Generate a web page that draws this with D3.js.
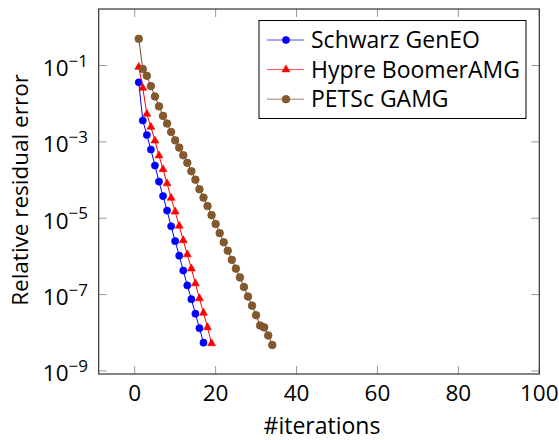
<!DOCTYPE html>
<html>
<head>
<meta charset="utf-8">
<script src="https://cdn.jsdelivr.net/npm/d3@7"></script>
<style>
  body { margin: 0; background: #fff; }
  text { font-family: "Open Sans", Lato, sans-serif; fill: #000; }
</style>
</head>
<body>
<div id="chart"></div>
<script>
// iterations on x, relative residual error (log10)
const schwarzIter = d3.range(1, 18)
const schwarzLog = [-1.44, -2.44, -2.82, -3.20, -3.62, -4.04, -4.42, -4.80, -5.21,
    -5.60, -5.98, -6.37, -6.76, -7.12, -7.50, -7.88, -8.26]

const hypreIter = d3.range(1, 20)
const hypreLog = [-1.04, -1.59, -2.27, -2.61, -2.97, -3.36, -3.72, -4.09, -4.47, -4.83,
    -5.20, -5.58, -5.95, -6.32, -6.71, -7.10, -7.48, -7.86, -8.28]

const petscIter = d3.range(1, 35)
const petscLog = [-0.30, -1.09, -1.27, -1.54, -1.81, -2.07, -2.32, -2.52, -2.74, -2.96,
    -3.15, -3.35, -3.55, -3.77, -3.99, -4.24, -4.46, -4.68, -4.92, -5.15,
    -5.39, -5.63, -5.85, -6.09, -6.32, -6.55, -6.80, -7.05, -7.29, -7.54,
    -7.81, -7.86, -8.07, -8.32]

const seriesNames = ["Schwarz GenEO", "Hypre BoomerAMG", "PETSc GAMG"]
const xTicks = [0, 20, 40, 60, 80, 100]
const yTickExp = [-1, -3, -5, -7, -9]

// dimensions
const W = 559, H = 440
const plotLeft = 98.7, plotRight = 539.3, plotTop = 9, plotBottom = 374

const svg = d3.select("#chart").append("svg")
    .attr("width", W)
    .attr("height", H)

const x = d3.scaleLinear().domain([-8.9, 100]).range([plotLeft, plotRight])
const y = d3.scaleLog().domain([Math.pow(10, -9.08), Math.pow(10, 0.48)]).range([plotBottom, plotTop])

function toPts(iters, logs) {
    return iters.map((it, i) => ({ x: it, y: Math.pow(10, logs[i]) }))
}

const series = [
    { name: seriesNames[0], data: toPts(schwarzIter, schwarzLog), color: "#0000ff", mark: "circle" },
    { name: seriesNames[1], data: toPts(hypreIter, hypreLog), color: "#ff0000", mark: "triangle" },
    { name: seriesNames[2], data: toPts(petscIter, petscLog), color: "#734d26", mark: "otimes" }
]

// ticks (inside, on all four sides)
const tickLen = 8
const tickG = svg.append("g").attr("stroke", "#999").attr("stroke-width", 1)
xTicks.forEach(t => {
    tickG.append("line").attr("x1", x(t)).attr("x2", x(t)).attr("y1", plotBottom).attr("y2", plotBottom - tickLen)
    tickG.append("line").attr("x1", x(t)).attr("x2", x(t)).attr("y1", plotTop).attr("y2", plotTop + tickLen)
})
yTickExp.forEach(e => {
    const yy = y(Math.pow(10, e))
    tickG.append("line").attr("x1", plotLeft).attr("x2", plotLeft + tickLen).attr("y1", yy).attr("y2", yy)
    tickG.append("line").attr("x1", plotRight).attr("x2", plotRight - tickLen).attr("y1", yy).attr("y2", yy)
})

// tick labels
svg.append("g").selectAll("text")
    .data(xTicks)
    .join("text")
    .attr("x", d => x(d))
    .attr("y", 401)
    .attr("text-anchor", "middle")
    .attr("font-size", 22.5)
    .text(d => d)

const yLab = svg.append("g").selectAll("text")
    .data(yTickExp)
    .join("text")
    .attr("x", 88)
    .attr("y", d => y(Math.pow(10, d)) + 10.5)
    .attr("text-anchor", "end")
    .attr("font-size", 22.5)
yLab.append("tspan").text("10")
yLab.append("tspan")
    .attr("font-size", 17)
    .attr("dy", -9.5)
    .text(d => "\u2212" + Math.abs(d))

// series
const line = d3.line().x(d => x(d.x)).y(d => y(d.y))

function drawMark(g, kind, color, cx, cy) {
    if (kind == "circle") {
        g.append("circle").attr("cx", cx).attr("cy", cy).attr("r", 3.6)
            .attr("fill", color).attr("stroke", color).attr("stroke-width", 0.6)
    } else if (kind == "triangle") {
        const r = 4.6
        const pts = [[cx, cy - r], [cx - r * 0.866, cy + r / 2], [cx + r * 0.866, cy + r / 2]]
        g.append("path").attr("d", "M" + pts.join("L") + "Z")
            .attr("fill", color).attr("stroke", color).attr("stroke-width", 0.6)
    } else {
        const r = 3.8
        g.append("circle").attr("cx", cx).attr("cy", cy).attr("r", r)
            .attr("fill", "#8c5c2e").attr("stroke", color).attr("stroke-width", 0.8)
        const d = r * 0.7
        g.append("path")
            .attr("d", `M${cx - d},${cy - d}L${cx + d},${cy + d}M${cx - d},${cy + d}L${cx + d},${cy - d}`)
            .attr("stroke", color).attr("stroke-width", 0.7)
    }
}

series.forEach(s => {
    const g = svg.append("g")
    g.append("path")
        .datum(s.data)
        .attr("d", line)
        .attr("fill", "none")
        .attr("stroke", s.color)
        .attr("stroke-width", 1)
    s.data.forEach(d => drawMark(g, s.mark, s.color, x(d.x), y(d.y)))
})

// axis frame
svg.append("rect")
    .attr("x", plotLeft).attr("y", plotTop)
    .attr("width", plotRight - plotLeft).attr("height", plotBottom - plotTop)
    .attr("fill", "none").attr("stroke", "#333").attr("stroke-width", 1.2)

// legend
const lg = svg.append("g")
lg.append("rect")
    .attr("x", 259).attr("y", 20.5)
    .attr("width", 267).attr("height", 98)
    .attr("fill", "#fff").attr("stroke", "#000").attr("stroke-width", 1)
series.forEach((s, i) => {
    const ly = 40 + i * 29.6
    lg.append("line").attr("x1", 267).attr("x2", 304).attr("y1", ly).attr("y2", ly)
        .attr("stroke", s.color).attr("stroke-width", 1).attr("stroke-opacity", 0.7)
    drawMark(lg, s.mark, s.color, 286, ly)
    lg.append("text")
        .attr("x", 311).attr("y", ly + 8)
        .attr("font-size", 23)
        .text(s.name)
})

// axis labels
svg.append("text")
    .attr("x", 322).attr("y", 434)
    .attr("text-anchor", "middle")
    .attr("font-size", 23)
    .text("#iterations")

svg.append("text")
    .attr("transform", "translate(28,190) rotate(-90)")
    .attr("text-anchor", "middle")
    .attr("font-size", 22.5)
    .text("Relative residual error")
</script>
</body>
</html>
